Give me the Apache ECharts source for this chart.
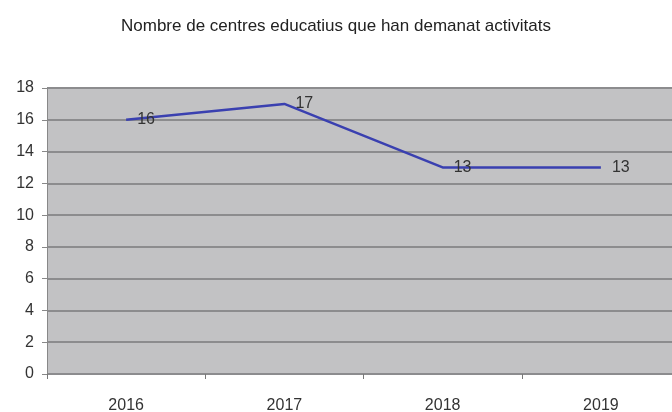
<!DOCTYPE html>
<html>
<head>
<meta charset="utf-8">
<script src="https://cdn.jsdelivr.net/npm/echarts@6/dist/echarts.min.js"></script>
<style>
  html, body { margin: 0; padding: 0; background: #fff; }
  #chart { width: 672px; height: 412px; }
</style>
</head>
<body>
<div id="chart"></div>
<script>
var years = ['2016', '2017', '2018', '2019'];
var centres = [16, 17, 13, 13];
var titleText = 'Nombre de centres educatius que han demanat activitats';

var chart = echarts.init(document.getElementById('chart'));
chart.setOption({
    animation: false,
    title: {
        text: titleText,
        left: 'center',
        top: 13,
        textStyle: {
            fontFamily: 'Liberation Sans',
            fontSize: 17,
            fontWeight: 'normal',
            color: '#222'
        }
    },
    grid: {
        left: 47,
        top: 88,
        right: -8,
        height: 286,
        outerBoundsMode: 'none',
        show: true,
        backgroundColor: '#c2c2c4',
        borderWidth: 0
    },
    xAxis: {
        type: 'category',
        data: years,
        boundaryGap: true,
        axisLine: { show: false },
        axisTick: { show: true, length: 5, lineStyle: { color: '#777' } },
        axisLabel: {
            margin: 24,
            fontFamily: 'Liberation Sans',
            fontSize: 16,
            color: '#333'
        }
    },
    yAxis: {
        type: 'value',
        min: 0,
        max: 18,
        interval: 2,
        axisLine: { show: true, lineStyle: { color: '#888', width: 1 } },
        axisTick: { show: true, length: 5, lineStyle: { color: '#888' } },
        axisLabel: {
            margin: 13,
            fontFamily: 'Liberation Sans',
            fontSize: 16,
            color: '#333'
        },
        splitLine: { lineStyle: { color: '#8c8c8e', width: 2 } }
    },
    series: [{
        type: 'line',
        data: centres,
        symbol: 'circle',
        symbolSize: 2,
        itemStyle: { color: 'rgba(0,0,0,0)', borderWidth: 0 },
        lineStyle: { color: '#3a40b0', width: 2.5 },
        label: {
            show: true,
            position: 'right',
            distance: 10,
            fontFamily: 'Liberation Sans',
            fontSize: 16,
            color: '#333'
        }
    }]
});
</script>
</body>
</html>
